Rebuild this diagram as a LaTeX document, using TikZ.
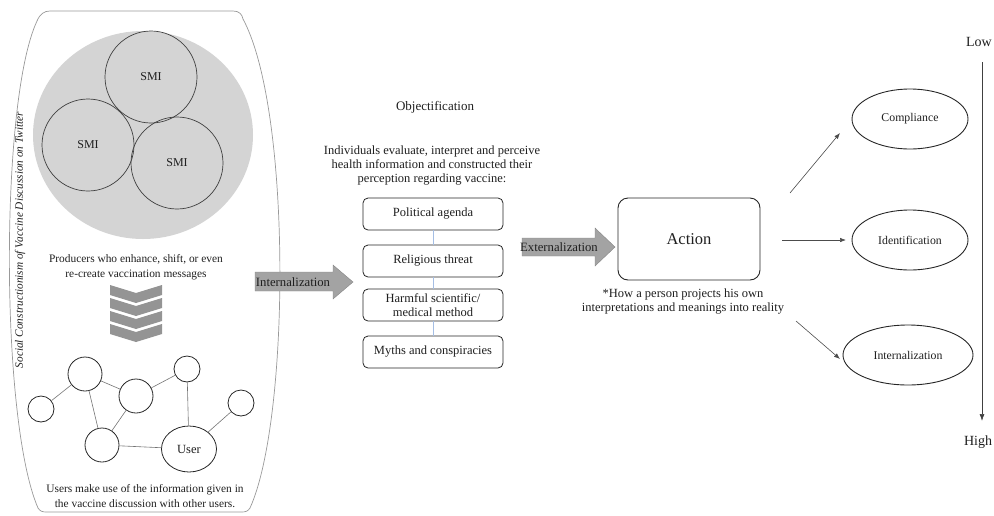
\documentclass[tikz,border=0pt]{standalone}
\usepackage{fontspec}
\setmainfont{Liberation Serif}
\usetikzlibrary{shapes.geometric,arrows.meta}
\definecolor{bubble}{gray}{0.83}
\definecolor{arrowfill}{gray}{0.64}
\definecolor{arrowedge}{gray}{0.52}
\definecolor{chev}{gray}{0.58}
\definecolor{linkblue}{RGB}{165,190,228}
\definecolor{ink}{gray}{0.12}
\begin{document}
\begin{tikzpicture}[x=1pt,y=-1pt, every node/.style={text=ink},
  smi/.style={circle,draw=black!75,line width=0.7pt,minimum size=92pt,inner sep=0pt,font=\fontsize{12}{14}\selectfont},
  peer/.style={circle,draw=black!85,line width=0.8pt,inner sep=0pt},
  tie/.style={draw=black!55,line width=0.6pt},
  theme/.style={draw=black!85,rounded corners=5pt,line width=0.8pt,minimum width=140pt,minimum height=32pt,inner sep=1pt,align=center,font=\fontsize{12.5}{13.5}\selectfont,fill=white},
  level/.style={ellipse,draw=black!85,line width=0.9pt,minimum width=116pt,minimum height=60pt,inner sep=0pt,font=\fontsize{11.8}{13}\selectfont},
  pointer/.style={draw=black!70,line width=0.6pt,-{Latex[length=6pt,width=4.5pt]}},
  caption/.style={align=center,font=\fontsize{11.4}{14.5}\selectfont},
  midcaption/.style={align=center,font=\fontsize{12.5}{14}\selectfont},
  bigarrow/.style={fill=arrowfill,draw=arrowedge,line width=0.4pt},
  ]
\useasboundingbox (0,0) rectangle (994,515);

% ---------- left panel: producers and users ----------
\draw[draw=black!40, line width=0.7pt]
  (50,11) -- (233,11) .. controls (239,11) and (242,14) .. (243,19)
  .. controls (292,110) and (290,420) .. (250,508)
  .. controls (248,511) and (246,512) .. (242,512) -- (46,512)
  .. controls (42,512) and (40,511) .. (38,508)
  .. controls (0,420) and (0,100) .. (37,21)
  .. controls (40,14) and (44,11) .. (50,11) -- cycle;

\node[rotate=90, font=\itshape\fontsize{11.3}{13}\selectfont] (paneltitle) at (20,240)
  {Social Constructionism of Vaccine Discussion on Twitter};

\fill[bubble] (143,135) ellipse [x radius=110, y radius=104];
\node[smi] (smiA) at (151,77) {SMI};
\node[smi] (smiB) at (88,145) {SMI};
\node[smi] (smiC) at (177,163) {SMI};

\node[caption] (producers) at (136,267)
  {Producers who enhance, shift, or even\\re-create vaccination messages};

% stacked chevrons
\foreach \y in {285,298,311,324}{
  \fill[chev] (110,\y) -- (136,\y+8) -- (162,\y) -- (162,\y+10) -- (136,\y+18) -- (110,\y+10) -- cycle;
}

% user network
\node[peer, minimum size=34pt] (n1) at (85,374) {};
\node[peer, minimum size=26pt] (n2) at (41,409) {};
\node[peer, minimum size=34pt] (n3) at (136,396) {};
\node[peer, minimum size=26pt] (n4) at (187,369) {};
\node[peer, minimum size=34pt] (n5) at (102,445) {};
\node[peer, minimum size=26pt] (n6) at (241,403) {};
\node[ellipse, draw=black!85, line width=0.8pt, minimum width=55pt, minimum height=46pt, inner sep=0pt,
      font=\fontsize{12.5}{14}\selectfont] (user) at (189,449) {User};
\draw[tie] (n2) -- (n1);
\draw[tie] (n1) -- (n3);
\draw[tie] (n1) -- (n5);
\draw[tie] (n3) -- (n5);
\draw[tie] (n3) -- (n4);
\draw[tie] (n4) -- (user);
\draw[tie] (n5) -- (user);
\draw[tie] (user) -- (n6);

\node[caption] (users) at (145,496)
  {Users make use of the information given in\\the vaccine discussion with other users.};

% ---------- internalization arrow ----------
\draw[bigarrow] (255,272) -- (333,272) -- (333,265) -- (353,282) -- (333,299) -- (333,291) -- (255,291) -- cycle;
\node[font=\fontsize{12.7}{14}\selectfont] (intlabel) at (293,282) {Internalization};

% ---------- objectification ----------
\node[font=\fontsize{13}{15}\selectfont] (objtitle) at (435,107) {Objectification};
\node[midcaption] (objtext) at (432,166)
  {Individuals evaluate, interpret and perceive\\health information and constructed their\\perception regarding vaccine:};

\node[theme] (pol) at (433,214) {Political agenda};
\node[theme] (rel) at (433,261) {Religious threat};
\node[theme] (harm) at (433,305) {Harmful scientific/\\medical method};
\node[theme] (myth) at (433,352) {Myths and conspiracies};
\draw[linkblue, line width=0.6pt] (pol) -- (rel);
\draw[linkblue, line width=0.6pt] (rel) -- (harm);
\draw[linkblue, line width=0.6pt] (harm) -- (myth);

% ---------- externalization arrow ----------
\draw[bigarrow] (522,238) -- (595,238) -- (595,228) -- (615,247) -- (595,266) -- (595,256) -- (522,256) -- cycle;
\node[font=\fontsize{12.7}{14}\selectfont] (extlabel) at (559,247) {Externalization};

% ---------- action ----------
\node[draw=black!85, line width=0.9pt, rounded corners=10pt, minimum width=142pt, minimum height=82pt,
      font=\fontsize{16.5}{18}\selectfont] (action) at (689,239) {Action};
\node[midcaption] (actiontext) at (683,302)
  {*How a person projects his own\\interpretations and meanings into reality};

% ---------- outcomes ----------
\node[level] (comp) at (910,119) {Compliance};
\node[level] (ident) at (910,240) {Identification};
\node[level, minimum width=130pt] (intern) at (908,355) {Internalization};

\coordinate (s1) at (790,193);
\coordinate (e1) at (840,133);
\coordinate (s2) at (782,240);
\coordinate (e2) at (846,240);
\coordinate (s3) at (796,321);
\coordinate (e3) at (840,359);
\draw[pointer] (s1) -- (e1);
\draw[pointer] (s2) -- (e2);
\draw[pointer] (s3) -- (e3);

% ---------- scale ----------
\node[font=\fontsize{14}{16}\selectfont] (low) at (979,42) {Low};
\node[font=\fontsize{14}{16}\selectfont] (high) at (978,442) {High};
\coordinate (top) at (982,62);
\coordinate (bot) at (982,421);
\draw[draw=black!75, line width=0.7pt, -{Latex[length=7pt,width=5pt]}] (top) -- (bot);
\end{tikzpicture}
\end{document}
